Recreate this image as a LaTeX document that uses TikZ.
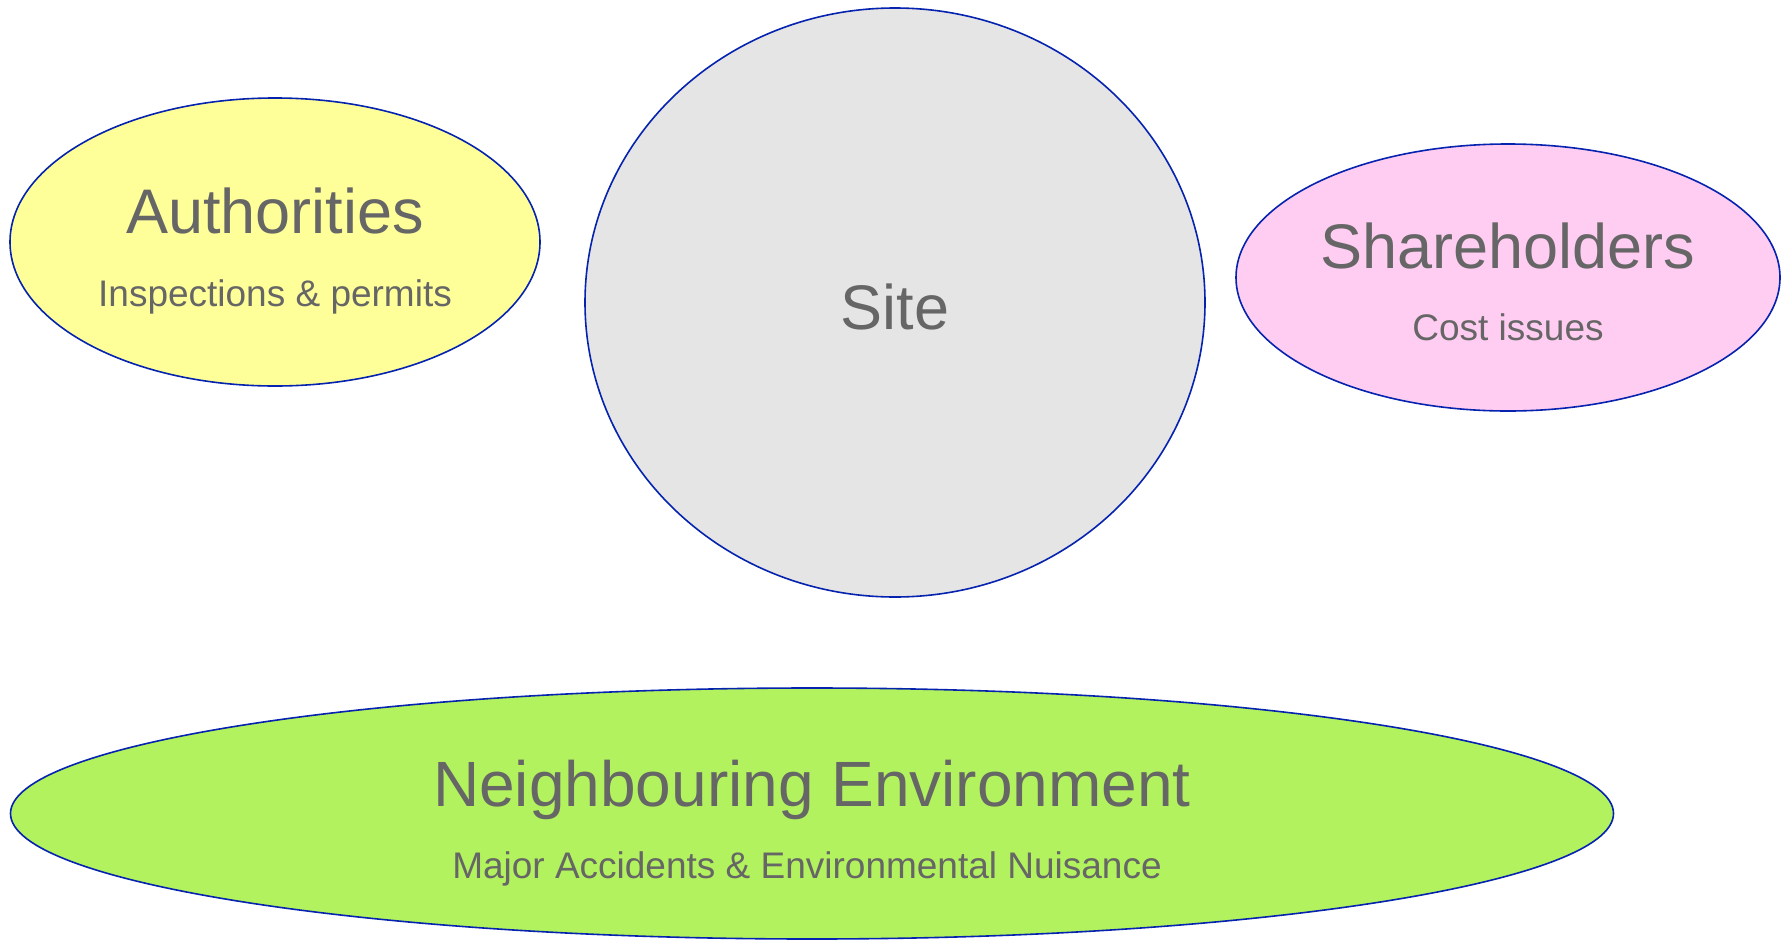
\documentclass[tikz,border=0pt]{standalone}
\usepackage{fontspec}
\setmainfont{Liberation Sans}
\usetikzlibrary{shapes.geometric}
\definecolor{edgeblue}{RGB}{5,35,175}
\definecolor{txtgray}{RGB}{102,102,102}
\definecolor{authfill}{RGB}{255,255,153}
\definecolor{sitefill}{RGB}{229,229,229}
\definecolor{sharefill}{RGB}{255,204,242}
\definecolor{envfill}{RGB}{178,242,94}
\tikzset{
  blob/.style={ellipse, draw=edgeblue, line width=1.6pt, inner sep=0pt},
  bigtxt/.style={anchor=base, inner sep=0pt, text=txtgray, font=\fontsize{63}{70}\selectfont},
  smalltxt/.style={anchor=base, inner sep=0pt, text=txtgray, font=\fontsize{37}{42}\selectfont}
}
\begin{document}
\begin{tikzpicture}[x=1pt,y=-1pt]
\useasboundingbox (0,0) rectangle (1789,940);
\node[blob, fill=authfill, minimum width=530pt, minimum height=288pt] (auth) at (275,242) {};
\node[blob, fill=sitefill, minimum width=620pt, minimum height=589pt] (site) at (895,302.5) {};
\node[blob, fill=sharefill, minimum width=544pt, minimum height=267pt] (share) at (1508,277.5) {};
\node[blob, fill=envfill, minimum width=1603pt, minimum height=251pt] (env) at (812,813.5) {};
\node[bigtxt] (authT) at (275,233.5) {Authorities};
\node[smalltxt] (authS) at (275,306.5) {Inspections \& permits};
\node[bigtxt] (siteT) at (895,329) {Site};
\node[bigtxt] (shareT) at (1508,268) {Shareholders};
\node[smalltxt] (shareS) at (1508,340) {Cost issues};
\node[bigtxt, font=\fontsize{64}{70}\selectfont] (envT) at (812,806) {Neighbouring Environment};
\node[smalltxt] (envS) at (807,878.5) {Major Accidents \& Environmental Nuisance};
\end{tikzpicture}
\end{document}
